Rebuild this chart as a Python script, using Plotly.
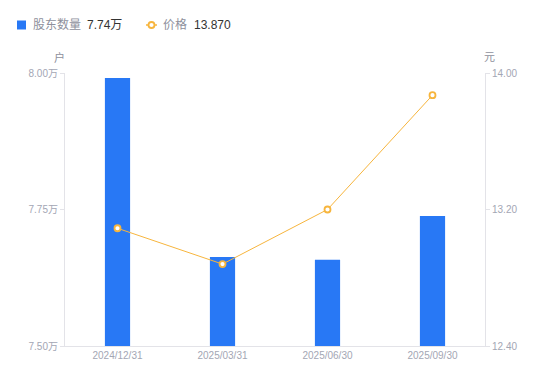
import plotly.graph_objects as go

dates = ["2024/12/31", "2025/03/31", "2025/06/30", "2025/09/30"]
holders_wan = [7.991, 7.663, 7.658, 7.738]
price = [13.09, 12.88, 13.20, 13.87]
left_ticks = [7.50, 7.75, 8.00]
left_ticktext = ["7.50万", "7.75万", "8.00万"]
right_ticks = [12.40, 13.20, 14.00]
right_ticktext = ["12.40", "13.20", "14.00"]
legend_names = ["股东数量", "价格"]
legend_values = ["7.74万", "13.870"]

FONT = "Liberation Sans, Noto Sans CJK SC, sans-serif"
BLUE = "#2878F5"
ORANGE = "#F7B53D"
AXIS = "#E3E3E8"
TICKC = "#A3A6B4"
NAMEC = "#8E909C"

W, H = 550, 381
L, R, T, B = 65, 65, 73, 35
pw, ph = W - L - R, H - T - B

def px2x(px):
    return (px - L) / pw

def px2y(py):
    return (H - B - py) / ph

fig = go.Figure()
fig.add_trace(go.Bar(
    x=dates, y=holders_wan, marker=dict(color=BLUE, line=dict(width=0)),
    width=0.24, yaxis="y", name=legend_names[0],
))
fig.add_trace(go.Scatter(
    x=dates, y=price, mode="lines+markers", yaxis="y2",
    line=dict(color=ORANGE, width=1),
    marker=dict(symbol="circle", size=6, color="white", line=dict(color=ORANGE, width=1.8)),
    name=legend_names[1],
))

annotations = [
    dict(text="户", x=px2x(59), y=px2y(57)),
    dict(text="元", x=px2x(489), y=px2y(57)),
]
for a in annotations:
    a.update(xref="paper", yref="paper", showarrow=False, xanchor="center",
             yanchor="middle", font=dict(size=11, color=NAMEC, family=FONT))

legend_items = [
    (legend_names[0], 31, legend_values[0], 85),
    (legend_names[1], 161, legend_values[1], 192),
]
for name, nx, val, vx in legend_items:
    annotations.append(dict(text=name, x=px2x(nx), y=px2y(25), xref="paper", yref="paper",
                            showarrow=False, xanchor="left", yanchor="middle",
                            font=dict(size=12, color=NAMEC, family=FONT)))
    annotations.append(dict(text=val, x=px2x(vx), y=px2y(25), xref="paper", yref="paper",
                            showarrow=False, xanchor="left", yanchor="middle",
                            font=dict(size=12, color="#333333", family=FONT)))

shapes = [
    dict(type="rect", xref="paper", yref="paper", x0=px2x(17), x1=px2x(26),
         y0=px2y(29.5), y1=px2y(20.5), fillcolor=BLUE, line=dict(width=0)),
    dict(type="line", xref="paper", yref="paper", x0=px2x(146), x1=px2x(157),
         y0=px2y(25), y1=px2y(25), line=dict(color=ORANGE, width=1.5)),
    dict(type="circle", xref="paper", yref="paper", x0=px2x(148.5), x1=px2x(154.5),
         y0=px2y(28), y1=px2y(22), fillcolor="white", line=dict(color=ORANGE, width=1.8)),
]

fig.update_layout(
    width=W, height=H,
    margin=dict(l=L, r=R, t=T, b=B),
    paper_bgcolor="white", plot_bgcolor="white",
    font=dict(family=FONT, size=10, color=TICKC),
    showlegend=False,
    xaxis=dict(showgrid=False, showline=True, linecolor=AXIS, linewidth=1,
               ticks="", tickfont=dict(size=10, color=TICKC), zeroline=False),
    yaxis=dict(range=[7.5, 8.0], tickvals=left_ticks, ticktext=left_ticktext,
               showgrid=False, showline=True, linecolor=AXIS, linewidth=1,
               ticks="outside", ticklen=4, tickcolor=AXIS,
               tickfont=dict(size=10, color=TICKC), zeroline=False),
    yaxis2=dict(range=[12.4, 14.0], tickvals=right_ticks, ticktext=right_ticktext,
                overlaying="y", side="right",
                showgrid=False, showline=True, linecolor=AXIS, linewidth=1,
                ticks="outside", ticklen=4, tickcolor=AXIS,
                tickfont=dict(size=10, color=TICKC), zeroline=False),
    annotations=annotations,
    shapes=shapes,
)

fig.write_html("out.html", config={"displayModeBar": False},
               post_script="document.body.style.margin='0';")
